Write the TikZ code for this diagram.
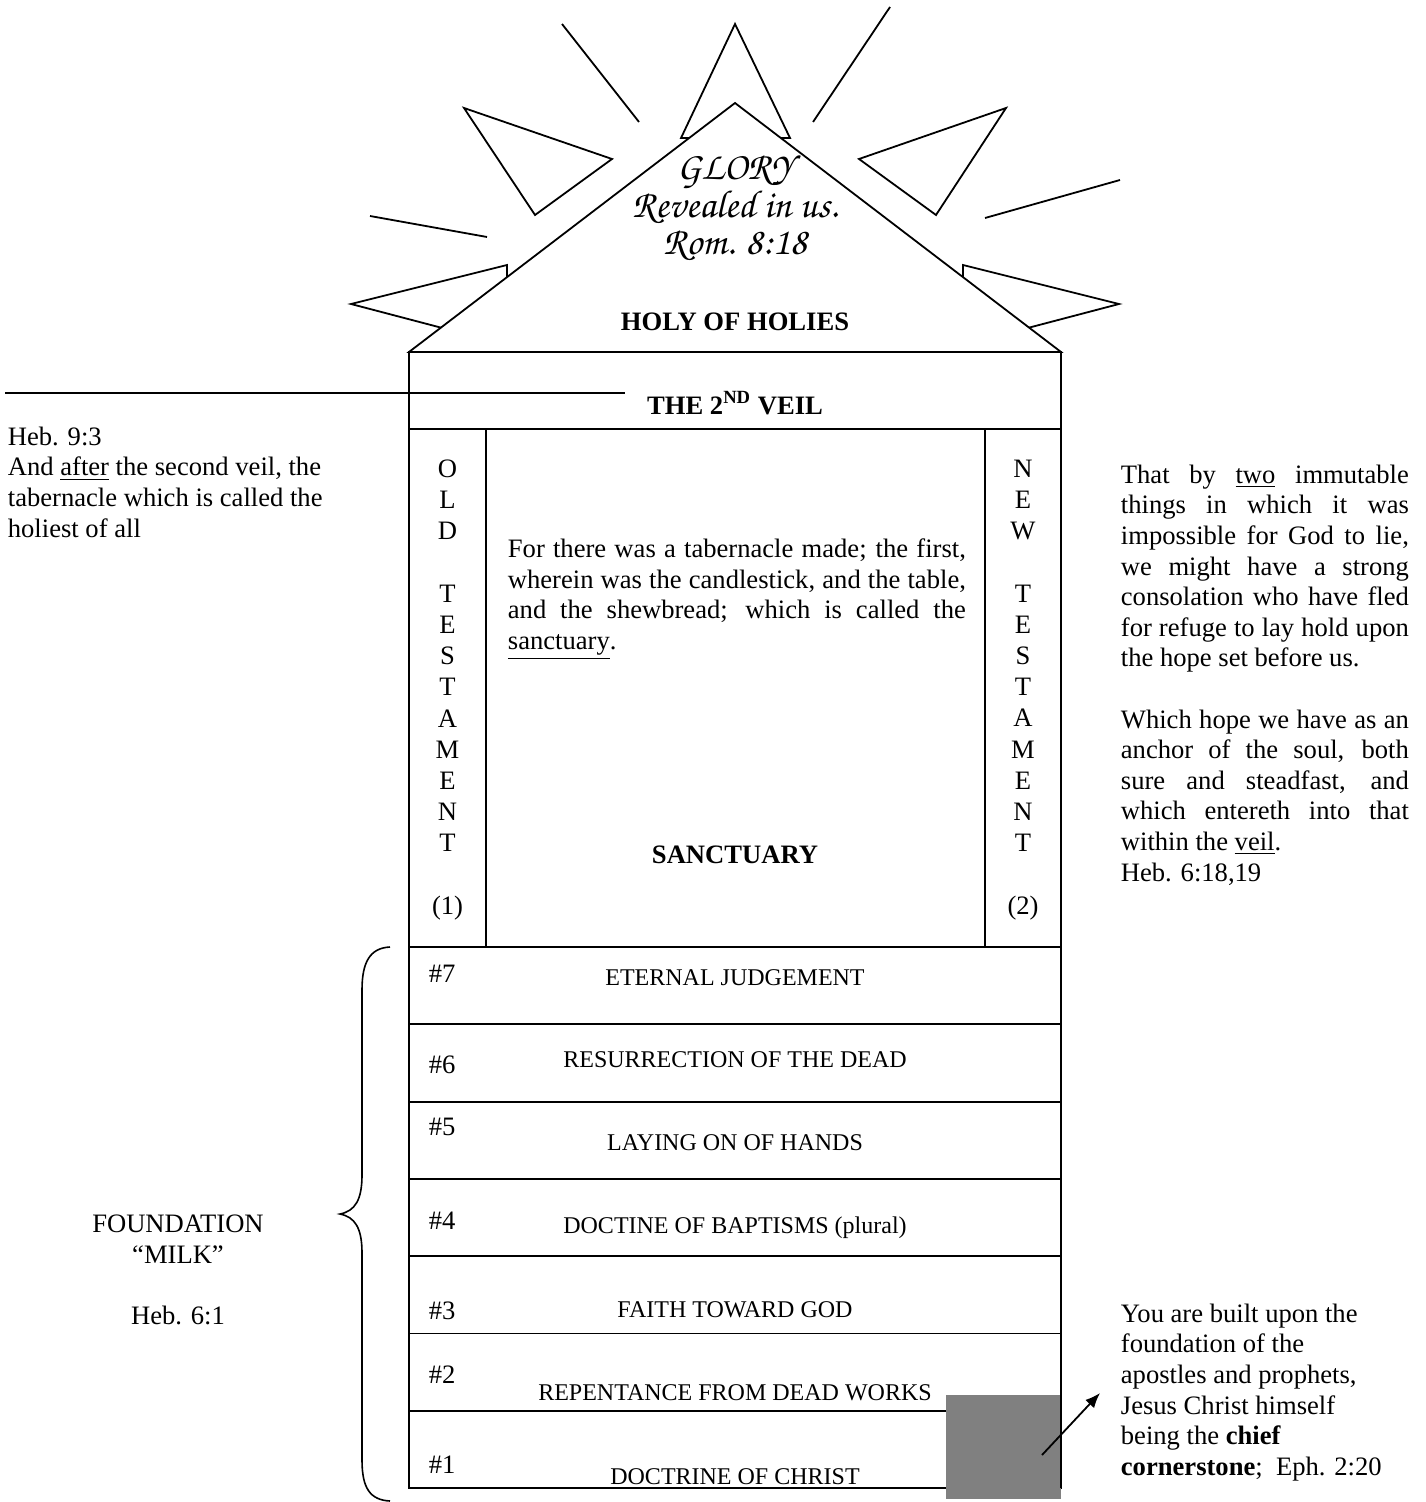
\documentclass[tikz,border=0pt]{standalone}
\usepackage[T1]{fontenc}
\usepackage{fontspec}
\setmainfont{Liberation Serif}
\usetikzlibrary{arrows.meta}
\setlength{\parindent}{0pt}
\definecolor{stonegray}{RGB}{128,128,128}

\tikzset{
  body/.style={font=\fontsize{13.3}{15.3}\selectfont, inner sep=0pt},
  heading/.style={font=\fontsize{13.3}{15.3}\selectfont\bfseries, inner sep=0pt},
  doctrine/.style={font=\fontsize{12}{14}\selectfont, inner sep=0pt},
  glory/.style={font=\fontsize{19.5}{18.75}\usefont{T1}{pzc}{mb}{it}, inner sep=0pt, align=center},
  column/.style={font=\fontsize{13.3}{15.6}\selectfont, inner sep=0pt, align=center, anchor=north},
  ray/.style={draw, fill=white, line join=miter},
}

\begin{document}
\begin{tikzpicture}[x=0.5pt, y=-0.5pt, line width=0.9pt, >=Latex]
\useasboundingbox (0,0) rectangle (1425,1502);

% rays of glory
\draw[ray] (735,24) -- (681,138) -- (790,138) -- cycle;
\draw[ray] (464,108) -- (612,159) -- (535,215) -- cycle;
\draw[ray] (1006,108) -- (859,159) -- (936,215) -- cycle;
\draw[ray] (351,304) -- (507,265) -- (507,345) -- cycle;
\draw[ray] (1119,304) -- (963,265) -- (963,345) -- cycle;
\draw (562,24) -- (639,122);
\draw (890,7) -- (813,122);
\draw (370,216) -- (487,237);
\draw (1120,180) -- (985,218);

% roof
\draw[fill=white] (409,352) -- (735,103) -- (1061,352) -- cycle;
\node[glory] (glory) at (735,208) {GLORY\\Revealed in us.\\Rom. 8:18};
\node[heading] (holies) at (735,322) {HOLY OF HOLIES};

% veil and sanctuary
\draw (409,352) rectangle (1061,947);
\draw (409,429) -- (1061,429);
\draw (486,429) -- (486,947);
\draw (985,429) -- (985,947);
\node[heading] (veil) at (735,403) {THE 2\textsuperscript{ND} VEIL};
\coordinate (veilstart) at (5,393);
\draw[shorten >=10.5pt] (veilstart) -- (veilstart -| veil.west);

\node[column] (oldtest) at (447.5,459) {O\\L\\D\\\mbox{}\\T\\E\\S\\T\\A\\M\\E\\N\\T\\\mbox{}\\(1)};
\node[column] (newtest) at (1023,459) {N\\E\\W\\\mbox{}\\T\\E\\S\\T\\A\\M\\E\\N\\T\\\mbox{}\\(2)};
\node[body, anchor=north west, text width=229pt, align=justify] (tabernacle) at (507,538)
  {For there was a tabernacle made; the first,\linebreak wherein was the candlestick, and the table,\linebreak and the shewbread; which is called the\linebreak \underline{sanctuary}.};
\node[heading] (sanctuary) at (735,855) {SANCTUARY};

% foundation
\foreach \n/\name/\ly/\ty in {7/ETERNAL JUDGEMENT/974/978, 6/RESURRECTION OF THE DEAD/1065/1060,
    5/LAYING ON OF HANDS/1127/1143, 4/DOCTINE OF BAPTISMS (plural)/1221/1228,
    3/FAITH TOWARD GOD/1311/1310, 2/REPENTANCE FROM DEAD WORKS/1375/1393,
    1/DOCTRINE OF CHRIST/1465/1477}
{
  \draw (409,{947+(7-\n)*77.3}) rectangle (1061,{947+(8-\n)*77.3});
  \node[body, anchor=west] (num\n) at (428,\ly) {\#\n};
  \node[doctrine] (row\n) at (735,\ty) {\name};
}

% chief cornerstone
\fill[stonegray] (946,1395) rectangle (1061,1499);
\draw (1061,1395) -- (1061,1488);
\coordinate (stonebase) at (1042,1455);
\coordinate (stonetip) at (1100,1393);
\draw[-{Latex[length=7.5pt,width=6pt]}] (stonebase) -- (stonetip);

% side texts
\node[body, anchor=north west, align=left] (hebnine) at (7,426)
  {Heb. 9:3\\And \underline{after} the second veil, the\\tabernacle which is called the\\holiest of all};
\node[body, anchor=north west, text width=144pt, align=justify] (hope) at (1120,464)
  {That by \underline{two} immutable\linebreak things in which it was\linebreak impossible for God to lie,\linebreak we might have a strong\linebreak consolation who have fled\linebreak for refuge to lay hold upon\linebreak the hope set before us.\par\vspace{15.3pt}
   Which hope we have as an\linebreak anchor of the soul, both\linebreak sure and steadfast, and\linebreak which entereth into that\linebreak within the \underline{veil}.\par Heb. 6:18,19};
\node[body, align=center] (milk) at (178,1270) {FOUNDATION\\“MILK”\\\mbox{}\\Heb. 6:1};
\node[body, anchor=north west, align=left] (builtupon) at (1120,1303)
  {You are built upon the\\foundation of the\\apostles and prophets,\\Jesus Christ himself\\being the \textbf{chief}\\\textbf{cornerstone};\ \ Eph. 2:20};

% brace
\draw[line width=0.8pt] (390,947) .. controls (370,948) and (362,962) .. (362,990) -- (362,1175)
  .. controls (362,1200) and (355,1211) .. (340,1214) .. controls (355,1217) and (362,1228) .. (362,1253)
  -- (362,1460) .. controls (362,1488) and (370,1500) .. (390,1501);
\end{tikzpicture}
\end{document}
